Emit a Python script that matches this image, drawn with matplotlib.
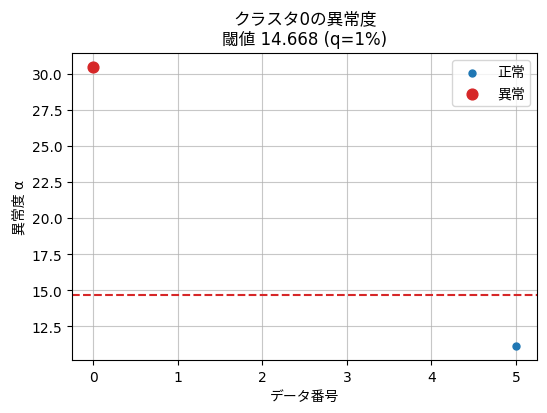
import matplotlib
matplotlib.use("Agg")
import matplotlib.pyplot as plt

plt.rcParams['font.family'] = ['DejaVu Sans', 'Noto Sans CJK JP']

normal_x = [5]
normal_y = [11.12]
anom_x = [0]
anom_y = [30.48]
threshold = 14.668

fig, ax = plt.subplots(figsize=(5.47, 4.14), dpi=100)
ax.scatter(normal_x, normal_y, s=25, color='#1f77b4', label='正常', zorder=3)
ax.scatter(anom_x, anom_y, s=60, color='#d62728', label='異常', zorder=3)
ax.axhline(threshold, color='#d62728', linestyle='--', linewidth=1.5)
ax.set_title('クラスタ0の異常度\n閾値 14.668 (q=1%)')
ax.set_xlabel('データ番号')
ax.set_ylabel('異常度 α')
ax.grid(True, alpha=0.7)
ax.legend(loc='upper right')
fig.subplots_adjust(left=0.132, right=0.982, top=0.87, bottom=0.128)
fig.savefig('out.png', dpi=100)
